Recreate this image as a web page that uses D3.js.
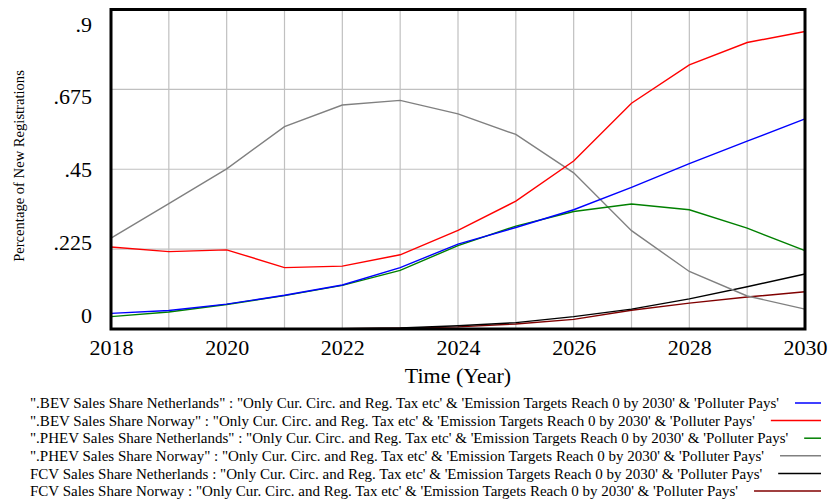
<!DOCTYPE html>
<html>
<head>
<meta charset="utf-8">
<script src="https://cdn.jsdelivr.net/npm/d3@7"></script>
<style>
  body { margin: 0; background: #fff; }
  svg { display: block; font-family: "Liberation Serif", "Times New Roman", serif; }
</style>
</head>
<body>
<div id="chart"></div>
<script>
var years = [2018, 2019, 2020, 2021, 2022, 2023, 2024, 2025, 2026, 2027, 2028, 2029, 2030];

var bevNetherlands = [0.044, 0.052, 0.070, 0.095, 0.124, 0.173, 0.239, 0.286, 0.336, 0.399, 0.466, 0.529, 0.592];
var bevNorway = [0.231, 0.218, 0.223, 0.173, 0.177, 0.209, 0.278, 0.360, 0.473, 0.636, 0.744, 0.807, 0.838];
var phevNetherlands = [0.035, 0.048, 0.069, 0.094, 0.123, 0.165, 0.235, 0.290, 0.331, 0.352, 0.336, 0.284, 0.221];
var phevNorway = [0.256, 0.353, 0.451, 0.570, 0.631, 0.644, 0.606, 0.548, 0.440, 0.277, 0.162, 0.093, 0.056];
var fcvNetherlands = [0, 0, 0, 0, 0.001, 0.003, 0.009, 0.018, 0.035, 0.056, 0.085, 0.119, 0.155];
var fcvNorway = [0, 0, 0, 0, 0.001, 0.002, 0.006, 0.014, 0.027, 0.053, 0.073, 0.090, 0.105];

var yTicks = [0, 0.225, 0.45, 0.675, 0.9];
var yTickLabels = ["0", ".225", ".45", ".675", ".9"];
var xTickYears = [2018, 2020, 2022, 2024, 2026, 2028, 2030];

var scenario = " : \"Only Cur. Circ. and Reg. Tax etc' & 'Emission Targets Reach 0 by 2030' & 'Polluter Pays'";
var seriesNames = [
    "\".BEV Sales Share Netherlands\"",
    "\".BEV Sales Share Norway\"",
    "\".PHEV Sales Share Netherlands\"",
    "\".PHEV Sales Share Norway\"",
    "FCV Sales Share Netherlands",
    "FCV Sales Share Norway"
];
var seriesValues = [bevNetherlands, bevNorway, phevNetherlands, phevNorway, fcvNetherlands, fcvNorway];
var seriesColors = ["#0000ff", "#ff0000", "#008000", "#808080", "#000000", "#800000"];

var width = 830,
    height = 502;

var plot = { left: 111, right: 805, top: 9.5, bottom: 329 };

var svg = d3.select("#chart")
    .append("svg")
    .attr("width", width)
    .attr("height", height);

var x = d3.scaleLinear()
    .domain([2018, 2030])
    .range([plot.left, plot.right]);

var y = d3.scaleLinear()
    .domain([0, 0.9])
    .range([plot.bottom, plot.top]);

// vensim spreads the value labels a bit inside the frame
var yLabel = d3.scaleLinear()
    .domain([0, 0.9])
    .range([315, 24]);

// grid
svg.append("g")
    .selectAll("line")
    .data(years.slice(1, -1))
    .enter()
    .append("line")
    .attr("x1", function (d) { return x(d); })
    .attr("x2", function (d) { return x(d); })
    .attr("y1", plot.top)
    .attr("y2", plot.bottom)
    .attr("stroke", "#c0c0c0")
    .attr("stroke-width", 1.2);

svg.append("g")
    .selectAll("line")
    .data(yTicks.slice(1, -1))
    .enter()
    .append("line")
    .attr("x1", plot.left)
    .attr("x2", plot.right)
    .attr("y1", function (d) { return y(d); })
    .attr("y2", function (d) { return y(d); })
    .attr("stroke", "#c0c0c0")
    .attr("stroke-width", 1.2);

// series, last one first so the BEV lines sit on top
var line = d3.line()
    .x(function (d, i) { return x(years[i]); })
    .y(function (d) { return y(d); });

var order = d3.range(seriesValues.length).reverse();
svg.append("g")
    .selectAll("path")
    .data(order)
    .enter()
    .append("path")
    .attr("d", function (i) { return line(seriesValues[i]); })
    .attr("fill", "none")
    .attr("stroke", function (i) { return seriesColors[i]; })
    .attr("stroke-width", 1.4);

// frame
svg.append("rect")
    .attr("x", plot.left)
    .attr("y", plot.top)
    .attr("width", plot.right - plot.left)
    .attr("height", plot.bottom - plot.top)
    .attr("fill", "none")
    .attr("stroke", "#000")
    .attr("stroke-width", 3);

// axes
var xAxis = svg.append("g")
    .attr("transform", "translate(0," + 336 + ")")
    .call(d3.axisBottom(x).tickValues(xTickYears).tickSize(0).tickFormat(d3.format("d")));
xAxis.select(".domain").remove();
xAxis.attr("font-family", null).attr("font-size", 22);
xAxis.selectAll("text")
    .attr("dy", "0.71em")
    .attr("fill", "#000");

var yAxis = svg.append("g")
    .attr("transform", "translate(" + 92 + ",0)")
    .call(d3.axisLeft(yLabel).tickValues(yTicks).tickSize(0).tickFormat(function (d, i) { return yTickLabels[i]; }));
yAxis.select(".domain").remove();
yAxis.attr("font-family", null).attr("font-size", 22);
yAxis.selectAll("text")
    .attr("x", 0)
    .attr("fill", "#000");

// axis titles
svg.append("text")
    .attr("x", (plot.left + plot.right) / 2)
    .attr("y", 383)
    .attr("text-anchor", "middle")
    .attr("font-size", 22)
    .text("Time (Year)");

svg.append("text")
    .attr("transform", "translate(24,166) rotate(-90)")
    .attr("text-anchor", "middle")
    .attr("font-size", 14.6)
    .text("Percentage of New Registrations");

// legend
var legend = svg.append("g");
seriesNames.forEach(function (name, i) {
    var rowY = 403 + i * 17.6;
    var t = legend.append("text")
        .attr("x", 30)
        .attr("y", rowY)
        .attr("dy", "0.35em")
        .attr("font-size", 15)
        .text(name + scenario);
    var end = 30 + t.node().getComputedTextLength();
    legend.append("line")
        .attr("x1", end + 16)
        .attr("x2", 821)
        .attr("y1", rowY)
        .attr("y2", rowY)
        .attr("stroke", seriesColors[i])
        .attr("stroke-width", 1.5);
});
</script>
</body>
</html>
